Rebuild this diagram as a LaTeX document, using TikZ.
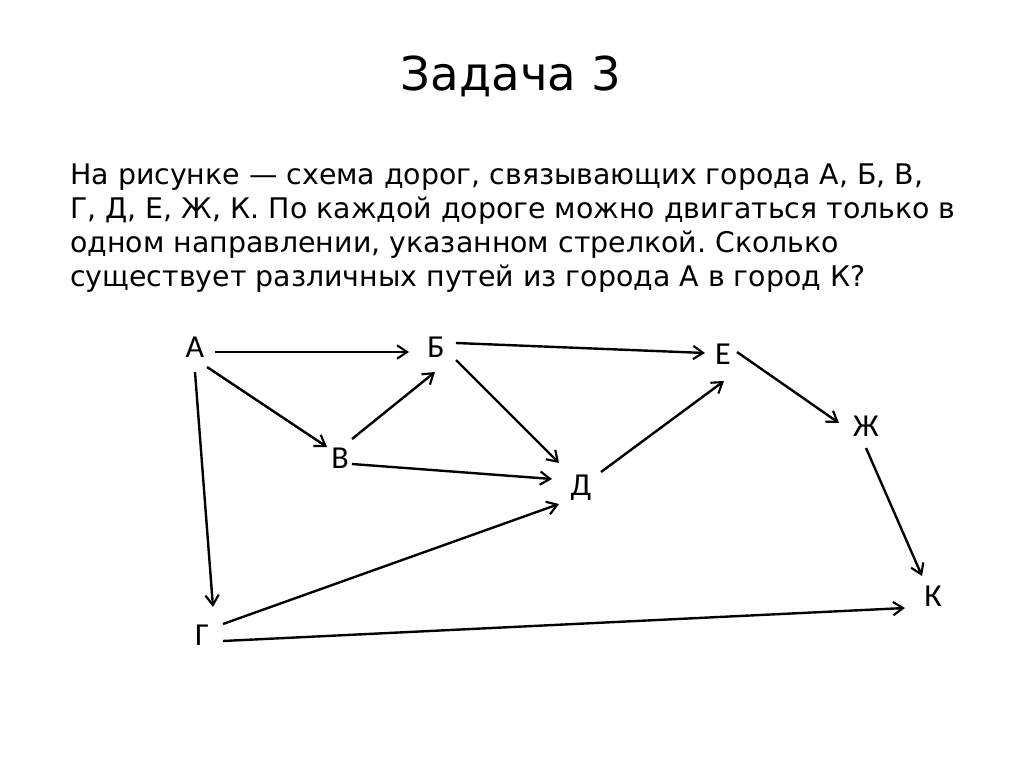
\documentclass[tikz,border=0pt]{standalone}
\usepackage{fontspec}
\setmainfont{DejaVu Sans}
\newfontfamily\lblfont{Carlito}
\usetikzlibrary{arrows.meta}
\frenchspacing
\tikzset{
  arr/.style={draw=black, line width=1.8pt, -{Straight Barb[length=7.5pt,width=10pt,line width=1.6pt]}},
  city/.style={inner sep=0pt, font=\lblfont\fontsize{24pt}{24pt}\selectfont},
  para/.style={anchor=base west, inner sep=0pt, font=\fontsize{21.3pt}{21.3pt}\selectfont},
}
\begin{document}
\begin{tikzpicture}[x=0.75pt,y=-0.75pt]
\useasboundingbox[fill=white] (0,0) rectangle (1024,767);
\node[anchor=base, inner sep=0pt, font=\fontsize{35pt}{35pt}\selectfont] (title) at (511,90) {Задача 3};
\node[para] (l1) at (70,184) {На рисунке — схема дорог, связывающих города А, Б, В,};
\node[para] (l2) at (70,218) {Г, Д, Е, Ж, К. По каждой дороге можно двигаться только в};
\node[para] (l3) at (70,252) {одном направлении, указанном стрелкой. Сколько};
\node[para] (l4) at (70,286) {существует различных путей из города А в город К?};

\node[city] (A) at (195,347) {А};
\node[city] (B) at (436,347) {Б};
\node[city] (V) at (340,458) {В};
\node[city] (D) at (581,488) {Д};
\node[city] (E) at (723,354) {Е};
\node[city] (Zh) at (866,426) {Ж};
\node[city] (K) at (933,596) {К};
\node[city] (G) at (202,635) {Г};

\draw[arr] ([shift={(20,5)}]A.center) -- ([shift={(-27,5)}]B.center);
\draw[arr] ([shift={(12,20)}]A.center) -- ([shift={(-13,-11)}]V.center);
\draw[arr] ([shift={(0,25)}]A.center) -- ([shift={(11,-28)}]G.center);
\draw[arr] ([shift={(20,-4)}]B.center) -- ([shift={(-18,-1)}]E.center);
\draw[arr] ([shift={(20,13)}]B.center) -- ([shift={(-22,-25)}]D.center);
\draw[arr] ([shift={(12,-19)}]V.center) -- ([shift={(-1,25)}]B.center);
\draw[arr] ([shift={(12,6)}]V.center) -- ([shift={(-29,-9)}]D.center);
\draw[arr] ([shift={(20,-16)}]D.center) -- ([shift={(1,27)}]E.center);
\draw[arr] ([shift={(14,-2)}]E.center) -- ([shift={(-27,-3)}]Zh.center);
\draw[arr] ([shift={(0,22)}]Zh.center) -- ([shift={(-11,-20)}]K.center);
\draw[arr] ([shift={(21,-11)}]G.center) -- ([shift={(-22,16)}]D.center);
\draw[arr] ([shift={(21,6)}]G.center) -- ([shift={(-28,12)}]K.center);
\end{tikzpicture}
\end{document}
